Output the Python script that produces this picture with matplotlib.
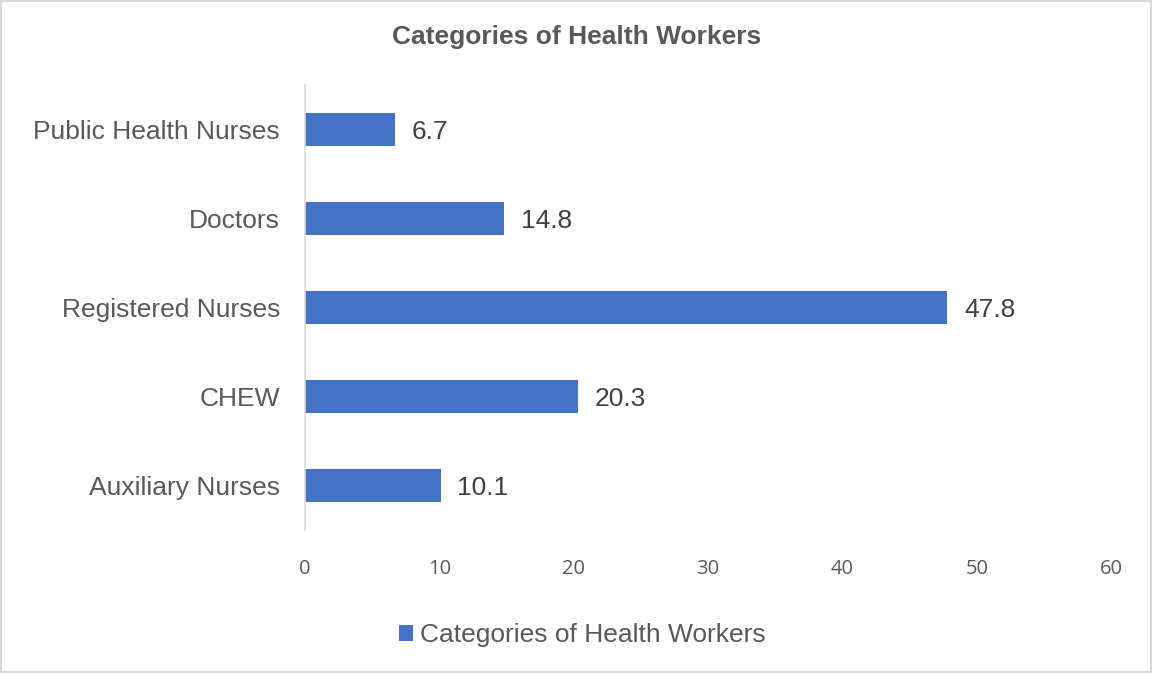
import matplotlib.pyplot as plt
from matplotlib.patches import Rectangle

categories = ['Auxiliary Nurses', 'CHEW', 'Registered Nurses', 'Doctors', 'Public Health Nurses']
values = [10.1, 20.3, 47.8, 14.8, 6.7]
series_name = 'Categories of Health Workers'
xticks = [0, 10, 20, 30, 40, 50, 60]

bar_color = '#4472C4'
text_color = '#595959'

fig = plt.figure(figsize=(11.53, 6.73), dpi=100)
fig.patches.append(Rectangle((0.001, 0.001), 0.997, 0.997, transform=fig.transFigure,
                             fill=False, edgecolor='#D9D9D9', linewidth=1.5))

ax = fig.add_axes([0.2645, 0.2125, 0.6992, 0.6612])
bars = ax.barh(range(len(categories)), values, height=0.36, color=bar_color, label=series_name)

ax.set_ylim(-0.5, len(categories) - 0.5)
ax.set_xlim(0, 60)
ax.set_xticks(xticks)
ax.set_xticklabels([str(t) for t in xticks], fontfamily='Open Sans', fontsize=14.5, color=text_color)
ax.set_yticks(range(len(categories)))
ax.set_yticklabels(categories, fontfamily='Liberation Sans', fontsize=19, color=text_color)
ax.tick_params(axis='both', length=0)
ax.tick_params(axis='x', pad=21)
ax.tick_params(axis='y', pad=18)

for s in ['top', 'right', 'bottom']:
    ax.spines[s].set_visible(False)
ax.spines['left'].set_color('#D9D9D9')
ax.spines['left'].set_linewidth(1.2)

for b, v in zip(bars, values):
    ax.text(v + 1.25, b.get_y() + b.get_height() / 2, f'{v}', va='center_baseline', ha='left',
            fontfamily='Liberation Sans', fontsize=19, color='#404040')

fig.text(0.5, 0.945, series_name, ha='center', va='center', fontfamily='Liberation Sans',
         fontsize=19, fontweight='bold', color=text_color)

leg = fig.legend(loc='center', bbox_to_anchor=(0.505, 0.056), frameon=False,
                 prop={'family': 'Liberation Sans', 'size': 19},
                 handlelength=0.55, handleheight=0.55, handletextpad=0.25)
for t in leg.get_texts():
    t.set_color(text_color)

fig.savefig('out.png', dpi=100)
